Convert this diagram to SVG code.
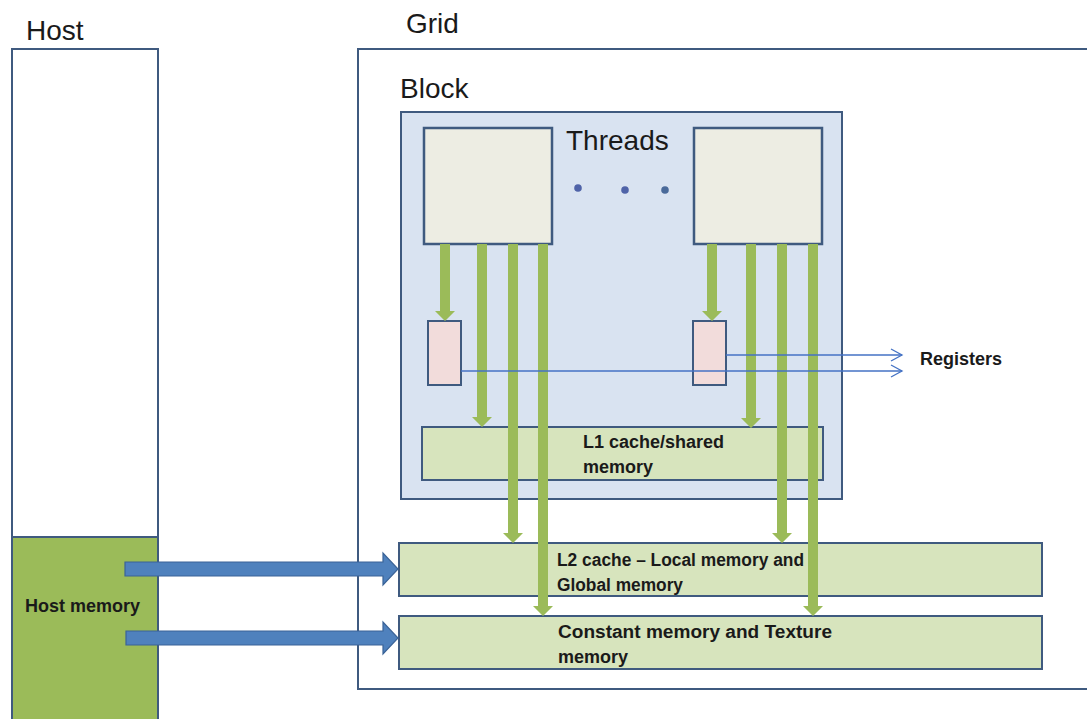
<svg xmlns="http://www.w3.org/2000/svg" width="1087" height="719" viewBox="0 0 1087 719">
<defs>
<style>
.title{font-family:"Liberation Sans",Arial,sans-serif;font-size:28px;fill:#1a1a1a}
.lbl{font-family:"Liberation Sans",Arial,sans-serif;font-size:18px;font-weight:bold;fill:#1a1a1a}
.frame{fill:#ffffff;stroke:#3f5a7f;stroke-width:2}
.block{fill:#d9e3f1;stroke:#3f5a7f;stroke-width:2}
.thread{fill:#edede3;stroke:#3f5a7f;stroke-width:2.5}
.reg{fill:#f2dcdb;stroke:#3f5a7f;stroke-width:2}
.mem{fill:#d7e4bd;stroke:#3f5a7f;stroke-width:2}
.garrow{fill:#9bbb59}
.barrow{fill:#4f81bd;stroke:#3a6397;stroke-width:1.2}
.regline{fill:none;stroke:#4472c4;stroke-width:1.3}
</style>
<marker id="open" markerWidth="14" markerHeight="14" refX="12" refY="7" orient="auto" markerUnits="userSpaceOnUse">
<path d="M1,1 L12,7 L1,13" fill="none" stroke="#4472c4" stroke-width="1.3"/>
</marker>
</defs>
<rect width="1087" height="719" fill="#ffffff"/>

<g id="host">
<rect class="frame" x="12" y="49" width="146" height="680"/>
<text class="title" x="26" y="40">Host</text>
</g>
<g id="host-memory">
<rect x="12" y="537" width="146" height="190" fill="#9bbb59" stroke="#3f5a7f" stroke-width="2"/>
<text class="lbl" x="25" y="612">Host memory</text>
</g>

<g id="grid">
<rect class="frame" x="358" y="49" width="740" height="640"/>
<text class="title" x="406" y="33">Grid</text>
</g>

<g id="block">
<rect class="block" x="401" y="112" width="441" height="387"/>
<text class="title" x="400" y="98">Block</text>
</g>

<g id="thread1"><rect class="thread" x="424" y="128" width="128" height="116"/></g>
<g id="thread2"><rect class="thread" x="694" y="128" width="128" height="116"/></g>
<g id="threads-label">
<text class="title" x="566" y="150">Threads</text>
<circle cx="578" cy="188" r="3.8" fill="#4f63a8"/>
<circle cx="625" cy="190" r="3.8" fill="#4f63a8"/>
<circle cx="665" cy="190" r="3.8" fill="#4a6a9a"/>
</g>

<g id="register1"><rect class="reg" x="428" y="321" width="33" height="64"/></g>
<g id="register2"><rect class="reg" x="693" y="321" width="33" height="64"/></g>

<g id="l1">
<rect class="mem" x="422" y="427" width="401" height="53"/>
<text class="lbl" x="583" y="448">L1 cache/shared</text>
<text class="lbl" x="583" y="473">memory</text>
</g>

<g id="l2">
<rect class="mem" x="399" y="543" width="643" height="53"/>
<text class="lbl" x="557" y="566" textLength="247" lengthAdjust="spacingAndGlyphs">L2 cache – Local memory and</text>
<text class="lbl" x="557" y="591" textLength="126" lengthAdjust="spacingAndGlyphs">Global memory</text>
</g>

<g id="constant">
<rect class="mem" x="399" y="616" width="643" height="53"/>
<text class="lbl" x="558" y="638" textLength="274" lengthAdjust="spacingAndGlyphs">Constant memory and Texture</text>
<text class="lbl" x="558" y="663">memory</text>
</g>

<g id="registers-label">
<text class="lbl" x="920" y="365">Registers</text>
</g>

<g id="connectors">
<polygon class="garrow" points="440,244 450,244 450,311 455,311 445,321 435,311 440,311"/>
<polygon class="garrow" points="477,244 487,244 487,417 492,417 482,427 472,417 477,417"/>
<polygon class="garrow" points="508,244 518,244 518,533 523,533 513,543 503,533 508,533"/>
<polygon class="garrow" points="538,244 548,244 548,606 553,606 543,616 533,606 538,606"/>
<polygon class="garrow" points="707,244 717,244 717,311 722,311 712,321 702,311 707,311"/>
<polygon class="garrow" points="746,244 756,244 756,418 761,418 751,428 741,418 746,418"/>
<polygon class="garrow" points="777,244 787,244 787,533 792,533 782,543 772,533 777,533"/>
<polygon class="garrow" points="808,244 818,244 818,606 823,606 813,616 803,606 808,606"/>

<polygon class="barrow" points="125,562 383,562 383,553 398,569 383,585 383,576 125,576"/>
<polygon class="barrow" points="126,631 383,631 383,622 398,638 383,654 383,645 126,645"/>

<line class="regline" x1="726" y1="355" x2="902" y2="355" marker-end="url(#open)"/>
<line class="regline" x1="461" y1="371" x2="902" y2="371" marker-end="url(#open)"/>
</g>
</svg>
